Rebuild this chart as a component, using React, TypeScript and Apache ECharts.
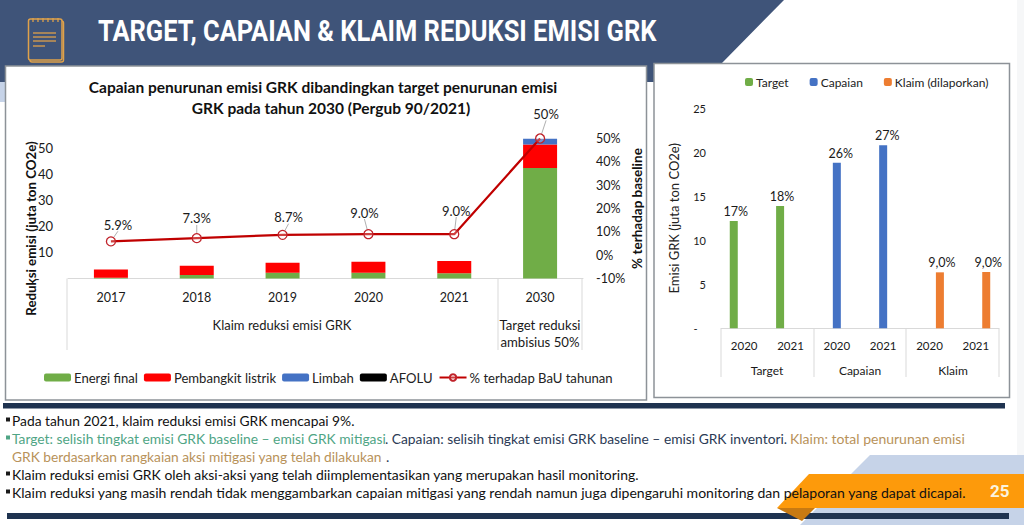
import React, { useEffect, useRef } from "react";
import * as echarts from "echarts";

const FONT = "Lato";
const yearCats = ["2017", "2018", "2019", "2020", "2021", "2030"];
const energiFinal = [0.3, 1.3, 2.2, 2.2, 2.0, 42.4];
const pembangkit = [3.2, 3.6, 3.85, 4.2, 4.7, 9.0];
const limbah = [0, 0, 0, 0, 0, 2.2];
const afolu = [0, 0, 0, 0, 0, 0];
const persenBaU = [5.9, 7.3, 8.7, 9.0, 9.0, 50];
const persenLabels = ["5.9%", "7.3%", "8.7%", "9.0%", "9.0%", "50%"];
const persenLabelDx = [7, 0, 6, -4, 2, 6];
const persenLabelDy = [-3, -6, -4, -8, -10, -11];

const rightCats = ["2020", "2021", "2020", "2021", "2020", "2021"];
const targetVals = [12.2, 13.9, null, null, null, null];
const capaianVals = [null, null, 18.8, 20.8, null, null];
const klaimVals = [null, null, null, null, 6.36, 6.4];
const targetLabels = ["17%", "18%"];
const capaianLabels = ["26%", "27%"];
const klaimLabels = ["9,0%", "9,0%"];

const bulletLines = [
  "Pada tahun 2021, klaim reduksi emisi GRK mencapai 9%.",
  "Klaim reduksi emisi GRK oleh aksi-aksi yang telah diimplementasikan yang merupakan hasil monitoring.",
  "Klaim reduksi yang masih rendah tidak menggambarkan capaian mitigasi yang rendah namun juga dipengaruhi monitoring dan pelaporan yang dapat dicapai.",
];

const txt = (text: string, x: number, y: number, fontSize: number, fill: string, extra: any = {}, styleExtra: any = {}) => ({
  type: "text",
  z: -1,
  x,
  y,
  ...extra,
  style: { text, x: 0, y: 0, fontFamily: FONT, fontSize, fill, textVerticalAlign: "middle", ...styleExtra },
});
const ctxt = (text: string, x: number, y: number, fontSize: number) =>
  txt(text, x, y, fontSize, "#1a1a1a", {}, { textAlign: "center" });
const vline = (x: number, y1: number, y2: number) => ({
  type: "line",
  z: -1,
  shape: { x1: x, y1, x2: x, y2 },
  style: { stroke: "#d9d9d9", lineWidth: 1 },
});
const poly = (points: number[][], fill: string) => ({ type: "polygon", z: -2, shape: { points }, style: { fill } });
const box = (x: number, y: number, width: number, height: number, fill: string) => ({
  type: "rect",
  z: -2,
  shape: { x, y, width, height },
  style: { fill },
});
const panel = (x: number, y: number, width: number, height: number) => ({
  type: "rect",
  z: -2,
  shape: { x, y, width, height },
  style: { fill: "#ffffff", stroke: "#8d9298", lineWidth: 1.5 },
});

export default function App() {
  const ref = useRef<HTMLDivElement>(null);
  useEffect(() => {
    const chart = echarts.init(ref.current!, undefined, { renderer: "svg" });
    const ICON = "#dfa14a";
    const graphic: any[] = [
      box(1017, 0, 7, 525, "#f6f7f8"),
      poly([[0, 0], [784, 0], [722, 63], [654, 63], [654, 82], [0, 82]], "#3f5479"),
      box(0, 82, 5, 20, "#c6d3e8"),
      panel(5.5, 66, 641, 334),
      panel(654, 63.5, 355.5, 334),
      // notepad icon
      { type: "rect", z: -1, shape: { x: 30, y: 21, width: 33.5, height: 41, r: 2 }, style: { fill: "none", stroke: ICON, lineWidth: 1.5 } },
      { type: "rect", z: -1, shape: { x: 28.5, y: 19, width: 33.5, height: 41, r: 2 }, style: { fill: "#3f5479", stroke: ICON, lineWidth: 1.5 } },
      ...[33, 37, 41].map((y) => ({ type: "line", z: -1, shape: { x1: 33, y1: y, x2: 56, y2: y }, style: { stroke: ICON, lineWidth: 1.3 } })),
      { type: "line", z: -1, shape: { x1: 33, y1: 46, x2: 45, y2: 46 }, style: { stroke: ICON, lineWidth: 1.3 } },
      ...[33, 38, 43, 48, 53, 58].map((x) => ({ type: "line", z: -1, shape: { x1: x, y1: 18, x2: x, y2: 22 }, style: { stroke: ICON, lineWidth: 1.3 } })),
      txt("TARGET, CAPAIAN & KLAIM REDUKSI EMISI GRK", 98, 31, 29, "#ffffff", { scaleX: 0.878 }, { fontFamily: "Roboto", fontWeight: "bold" }),
      // left chart multi-level axis
      vline(67, 278.5, 350),
      vline(498, 278.5, 350),
      vline(582, 278.5, 350),
      ctxt("Klaim reduksi emisi GRK", 282, 325, 13),
      ctxt("Target reduksi", 540, 325, 13.2),
      ctxt("ambisius 50%", 540, 342, 13.2),
      // right chart multi-level axis
      vline(721, 328.5, 377),
      vline(814, 328.5, 377),
      vline(906, 328.5, 377),
      vline(999, 328.5, 377),
      ctxt("Target", 767, 370, 12),
      ctxt("Capaian", 860, 370, 12),
      ctxt("Klaim", 953, 370, 12),
      // bars and decoration at the bottom
      poly([[870, 455], [1024, 455], [1024, 525], [800, 525]], "#c6d3e8"),
      box(3, 403, 1002, 5.5, "#1f3350"),
      box(7, 513, 1002, 6, "#1f3350"),
      poly([[777, 508], [815, 508], [802, 521]], "#c87a12"),
      poly([[809, 474], [1024, 474], [1024, 508], [777, 508]], "#fd9a0b"),
      txt("25", 990, 491, 17, "#fbf3df", {}, { fontFamily: "Roboto", fontWeight: "bold" }),
      // bullets
      ...[420, 474, 492].map((y) => ({ ...box(6, y - 2.5, 4, 4, "#1a1a1a"), z: -1 })),
      { ...box(6, 435.5, 4, 4, "#4fa585"), z: -1 },
      txt(bulletLines[0], 12, 420, 13.8, "#111111"),
      txt("Target: selisih tingkat emisi GRK baseline – emisi GRK mitigasi", 12, 438, 13.8, "#4fa585"),
      txt(". Capaian: selisih tingkat emisi GRK baseline – emisi GRK inventori.", 385, 438, 13.8, "#2b3a55"),
      txt("Klaim: total penurunan emisi", 790, 438, 14, "#b8925a"),
      txt("GRK berdasarkan rangkaian aksi mitigasi yang telah dilakukan", 12, 456, 14, "#b8925a", { scaleX: 0.985 }),
      txt(".", 386, 456, 14, "#2b3a55"),
      txt(bulletLines[1], 12, 474, 13.94, "#111111"),
      txt(bulletLines[2], 12, 492, 14.04, "#111111"),
    ];

    chart.setOption({
      animation: false,
      backgroundColor: "#ffffff",
      textStyle: { fontFamily: FONT },
      title: [
        { text: "Capaian penurunan emisi GRK dibandingkan target penurunan emisi", left: 318, top: 74, textAlign: "center", textStyle: { fontFamily: FONT, fontSize: 15.5, fontWeight: "bold", color: "#111" } },
        { text: "GRK pada tahun 2030 (Pergub 90/2021)", left: 326, top: 95, textAlign: "center", textStyle: { fontFamily: FONT, fontSize: 15.5, fontWeight: "bold", color: "#111" } },
      ],
      legend: [
        {
          left: 44, top: 371, padding: 0, itemWidth: 27, itemHeight: 8, itemGap: 6,
          data: ["Energi final", "Pembangkit listrik", "Limbah", "AFOLU", "% terhadap BaU tahunan"],
          textStyle: { fontFamily: FONT, fontSize: 13.1, color: "#222", padding: [0, 0, 0, -2] },
        },
        {
          left: 745, top: 76, padding: 0, itemWidth: 8, itemHeight: 8, itemGap: 21,
          data: ["Target", "Capaian", "Klaim (dilaporkan)"],
          textStyle: { fontFamily: FONT, fontSize: 12, color: "#222", padding: [0, 0, 0, -2] },
        },
      ],
      grid: [
        { left: 68, top: 138.5, width: 515, height: 140, containLabel: false },
        { left: 721, top: 108.3, width: 278, height: 220, containLabel: false },
      ],
      xAxis: [
        {
          type: "category", gridIndex: 0, data: yearCats,
          axisLine: { lineStyle: { color: "#d9d9d9" } }, axisTick: { show: false },
          axisLabel: { color: "#1a1a1a", fontSize: 12.5, margin: 12, fontFamily: FONT },
        },
        {
          type: "category", gridIndex: 1, data: rightCats,
          axisLine: { lineStyle: { color: "#d9d9d9" } }, axisTick: { show: false },
          axisLabel: { color: "#1a1a1a", fontSize: 11.5, margin: 11, fontFamily: FONT, interval: 0 },
        },
      ],
      yAxis: [
        {
          type: "value", gridIndex: 0, min: 0, max: 53.7, interval: 10,
          name: "Reduksi emisi (juta ton CO2e)", nameLocation: "middle", nameGap: 31, nameMoveOverlap: false,
          nameTextStyle: { fontFamily: FONT, fontSize: 13.3, fontWeight: "bold", color: "#111", padding: [0, 40, 0, 0] },
          axisLine: { show: false }, axisTick: { show: false }, splitLine: { show: false },
          axisLabel: {
            color: "#1a1a1a", fontSize: 13, margin: 15, fontFamily: FONT,
            formatter: (v: number) => (v === 0 ? "-    " : v % 10 === 0 ? String(v) : ""),
          },
        },
        {
          type: "value", gridIndex: 0, position: "right", min: -10, max: 50, interval: 10,
          name: "% terhadap baseline", nameLocation: "middle", nameGap: 47, nameRotate: 90, nameMoveOverlap: false,
          nameTextStyle: { fontFamily: FONT, fontSize: 13.5, fontWeight: "bold", color: "#111" },
          axisLine: { show: false }, axisTick: { show: false }, splitLine: { show: false },
          axisLabel: { color: "#1a1a1a", fontSize: 12.5, margin: 13, fontFamily: FONT, formatter: "{value}%" },
        },
        {
          type: "value", gridIndex: 1, min: 0, max: 25, interval: 5,
          name: "Emisi GRK (juta ton CO2e)", nameLocation: "middle", nameGap: 41, nameMoveOverlap: false,
          nameTextStyle: { fontFamily: FONT, fontSize: 13, color: "#222" },
          axisLine: { show: false }, axisTick: { show: false }, splitLine: { show: false },
          axisLabel: {
            color: "#1a1a1a", fontSize: 11, margin: 15, fontFamily: FONT,
            formatter: (v: number) => (v === 0 ? "-   " : String(v)),
          },
        },
      ],
      series: [
        { name: "Energi final", type: "bar", stack: "a", xAxisIndex: 0, yAxisIndex: 0, barWidth: 34, data: energiFinal, itemStyle: { color: "#70ad47" } },
        { name: "Pembangkit listrik", type: "bar", stack: "a", xAxisIndex: 0, yAxisIndex: 0, data: pembangkit, itemStyle: { color: "#ff0000" } },
        { name: "Limbah", type: "bar", stack: "a", xAxisIndex: 0, yAxisIndex: 0, data: limbah, itemStyle: { color: "#4472c4" } },
        { name: "AFOLU", type: "bar", stack: "a", xAxisIndex: 0, yAxisIndex: 0, data: afolu, itemStyle: { color: "#000000" } },
        {
          name: "% terhadap BaU tahunan", type: "line", xAxisIndex: 0, yAxisIndex: 1, data: persenBaU, z: 5,
          symbol: "circle", symbolSize: 9,
          lineStyle: { color: "#c00000", width: 2.2 },
          itemStyle: { color: "rgba(255,255,255,0.25)", borderColor: "#c0222a", borderWidth: 1.3 },
          label: {
            show: true, position: "top", distance: 2, fontSize: 13, fontFamily: FONT, color: "#1a1a1a",
            formatter: (p: any) => persenLabels[p.dataIndex],
          },
          labelLine: { show: true, lineStyle: { color: "#b0b0b0", width: 1 } },
          labelLayout: (p: any) => ({ dx: persenLabelDx[p.dataIndex], dy: persenLabelDy[p.dataIndex] }),
        },
        {
          name: "Target", type: "bar", xAxisIndex: 1, yAxisIndex: 2, barWidth: 8, barGap: "30%", data: targetVals, itemStyle: { color: "#70ad47" },
          label: { show: true, position: "top", distance: 3, offset: [2, 0], fontSize: 12.5, fontFamily: FONT, color: "#1a1a1a", formatter: (p: any) => targetLabels[p.dataIndex] },
        },
        {
          name: "Capaian", type: "bar", xAxisIndex: 1, yAxisIndex: 2, barWidth: 8, data: capaianVals, itemStyle: { color: "#4472c4" },
          label: { show: true, position: "top", distance: 3, offset: [4, 0], fontSize: 12.5, fontFamily: FONT, color: "#1a1a1a", formatter: (p: any) => capaianLabels[p.dataIndex - 2] },
        },
        {
          name: "Klaim (dilaporkan)", type: "bar", xAxisIndex: 1, yAxisIndex: 2, barWidth: 8, data: klaimVals, itemStyle: { color: "#ed7d31" },
          label: { show: true, position: "top", distance: 3, offset: [2, 0], fontSize: 12.5, fontFamily: FONT, color: "#1a1a1a", formatter: (p: any) => klaimLabels[p.dataIndex - 4] },
        },
      ],
      graphic: { elements: graphic },
    });
    return () => chart.dispose();
  }, []);
  return <div ref={ref} style={{ position: "fixed", left: 0, top: 0, width: 1024, height: 525 }} />;
}
